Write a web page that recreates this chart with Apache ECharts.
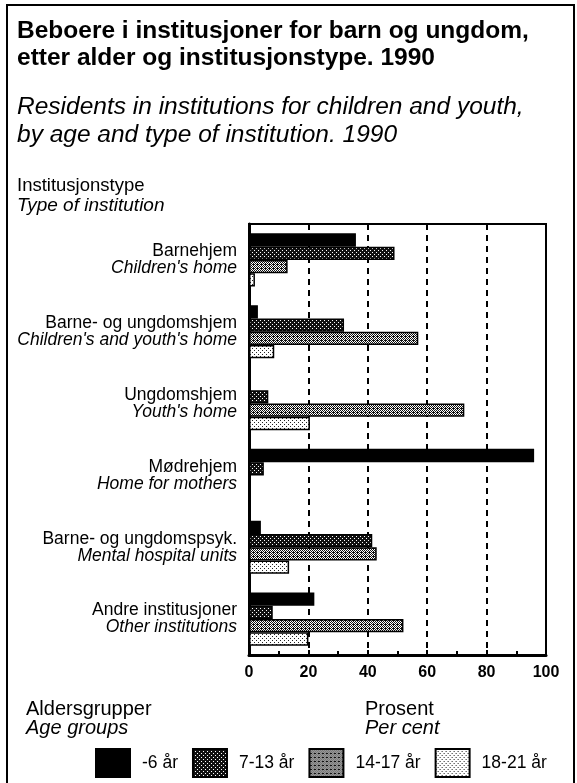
<!DOCTYPE html>
<html>
<head>
<meta charset="utf-8">
<script src="https://cdn.jsdelivr.net/npm/echarts@6/dist/echarts.min.js"></script>
<style>
html,body{margin:0;padding:0;background:#fff;}
#c{width:577px;height:783px;}
</style>
</head>
<body>
<div id="c"></div>
<script>
// ---- data ----
const categoriesNo = ['Barnehjem', 'Barne- og ungdomshjem', 'Ungdomshjem', 'Mødrehjem', 'Barne- og ungdomspsyk.', 'Andre institusjoner'];
const categoriesEn = ["Children's home", "Children's and youth's home", "Youth's home", 'Home for mothers', 'Mental hospital units', 'Other institutions'];
const seriesNames = ['-6 år', '7-13 år', '14-17 år', '18-21 år'];
const age0to6   = [36, 3, 0, 96, 4, 22];
const age7to13  = [49, 32, 6.5, 5, 41.5, 8];
const age14to17 = [13, 57, 72.5, 0, 43, 52];
const age18to21 = [2, 8.5, 20.5, 0, 13.5, 20];
const xTicks = [0, 20, 40, 60, 80, 100];

// ---- patterns ----
function makePattern(size, bg, fg, pts) {
  const c = document.createElement('canvas');
  c.width = size; c.height = size;
  const g = c.getContext('2d');
  g.fillStyle = bg; g.fillRect(0, 0, size, size);
  g.fillStyle = fg;
  pts.forEach(p => g.fillRect(p[0], p[1], 1, 1));
  return { image: c, repeat: 'repeat' };
}
const fills = [
  '#000',
  makePattern(4, '#111', '#fff', [[0, 0], [2, 2]]),
  makePattern(4, '#fff', '#111', [[0, 0], [2, 0], [1, 1], [3, 1], [0, 2], [2, 2], [1, 3], [3, 3], [1, 0]]),
  makePattern(4, '#fff', '#222', [[0, 0], [2, 2]])
];
const dataSets = [age0to6, age7to13, age14to17, age18to21];

const chart = echarts.init(document.getElementById('c'), null, { renderer: 'canvas' });
const FF = '"Liberation Sans", Arial, Helvetica, sans-serif';

function txt(x, y, s, font) {
  return { type: 'text', x: x, y: y, style: { text: s, font: font + ' ' + FF, fill: '#000', verticalAlign: 'middle' } };
}

const option = {
  animation: false,
  backgroundColor: '#fff',
  textStyle: { fontFamily: FF, color: '#000' },
  grid: { left: 249, right: 31, top: 224, bottom: 128, show: true, borderColor: '#000', borderWidth: 2 },
  legend: {
    left: 95, top: 748, padding: 0,
    icon: 'rect',
    itemWidth: 34, itemHeight: 28, itemGap: 14,
    selectedMode: false,
    textStyle: { fontFamily: FF, fontSize: 17.5, color: '#000', padding: [0, 0, 0, 7] },
    data: seriesNames
  },
  xAxis: {
    type: 'value', min: 0, max: 100, interval: 20,
    axisLine: { show: true, lineStyle: { color: '#000', width: 3 } },
    axisTick: { show: true, inside: true, length: 5, lineStyle: { color: '#000', width: 2 } },
    minorTick: { show: true, splitNumber: 2, length: 4, lineStyle: { color: '#000', width: 2 } },
    splitLine: { show: true, lineStyle: { color: '#000', width: 2, type: [6, 5] } },
    axisLabel: { fontFamily: FF, fontSize: 16, fontWeight: 'bold', color: '#000', margin: 10,
      formatter: v => xTicks.indexOf(v) >= 0 ? String(v) : '' }
  },
  yAxis: {
    type: 'category', inverse: true,
    data: categoriesNo.map((n, i) => '{a|' + n + '}\n{b|' + categoriesEn[i] + '}'),
    axisLine: { show: true, lineStyle: { color: '#000', width: 3 } },
    axisTick: { show: false },
    axisLabel: {
      margin: 12, align: 'right',
      rich: {
        a: { fontFamily: FF, fontSize: 17.5, color: '#000', lineHeight: 17, align: 'right' },
        b: { fontFamily: FF, fontSize: 17.5, fontStyle: 'italic', color: '#000', lineHeight: 17, align: 'right' }
      }
    }
  },
  series: seriesNames.map((name, i) => ({
    name: name, type: 'bar',
    data: dataSets[i],
    barGap: '0%', barCategoryGap: '26%',
    itemStyle: { color: fills[i], borderColor: '#000', borderWidth: 1.5 }
  })),
  graphic: [
    { type: 'rect', shape: { x: 7, y: 5, width: 567, height: 790 }, style: { fill: null, stroke: '#000', lineWidth: 2 }, z: 100 },
    txt(17, 31, 'Beboere i institusjoner for barn og ungdom,', 'bold 24.5px'),
    txt(17, 58, 'etter alder og institusjonstype. 1990', 'bold 24.5px'),
    txt(17, 107, 'Residents in institutions for children and youth,', 'italic 24.5px'),
    txt(17, 135, 'by age and type of institution. 1990', 'italic 24.5px'),
    txt(17, 186, 'Institusjonstype', '18.5px'),
    txt(17, 206, 'Type of institution', 'italic 19px'),
    txt(26, 709, 'Aldersgrupper', '20px'),
    txt(26, 728, 'Age groups', 'italic 20px'),
    txt(365, 709, 'Prosent', '20px'),
    txt(365, 728, 'Per cent', 'italic 20px')
  ]
};
chart.setOption(option);
</script>
</body>
</html>
